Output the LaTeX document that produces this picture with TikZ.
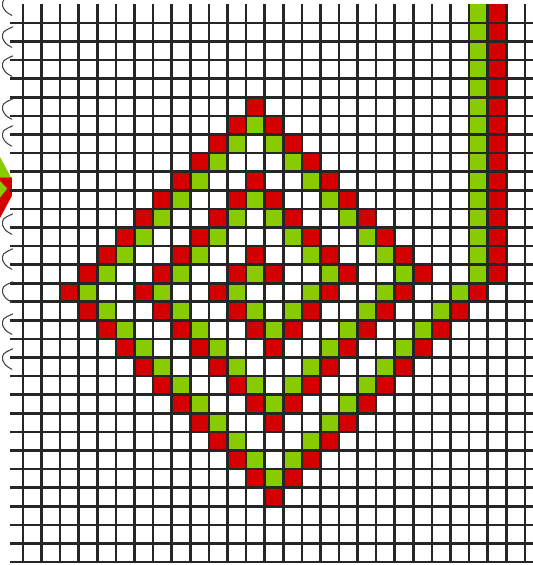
\documentclass[tikz,border=0pt]{standalone}
\usepackage{xcolor}
\usetikzlibrary{calc}
\definecolor{cellred}{RGB}{212,0,0}
\definecolor{cellgreen}{RGB}{136,204,0}
\tikzset{
  red cell/.style={
    fill=cellred
  },
  green cell/.style={
    fill=cellgreen
  },
  grid line/.style={
    draw=black!85, line width=2pt
  },
  edge curl/.style={
    draw=black!75, line width=0.8pt, line cap=round
  },
}
\begin{document}
\begin{tikzpicture}[x=0.5cm, y=0.5cm]

  % Page and margins
  \fill[white] (-0.237,0.237) rectangle (28.43,-30.16);
  \useasboundingbox (-0.237,0.237) rectangle (28.43,-30.16);

  % Red spiral: corner cells (column/row), walked cell by cell
  \foreach \ca/\ra/\cb/\rb in {26/0/26/14, 26/14/14/26, 14/26/3/15, 3/15/13/5,
      13/5/22/14, 22/14/14/22, 14/22/7/15, 7/15/13/9, 13/9/18/14,
      18/14/14/18, 14/18/11/15, 11/15/13/13, 13/13/14/14}{
    \pgfmathtruncatemacro{\n}{max(abs(\cb-\ca),abs(\rb-\ra))}
    \foreach \i in {0,...,\n}{
      \fill[red cell] ({\ca+\i*(\cb-\ca)/\n},{-\ra-\i*(\rb-\ra)/\n})
        rectangle ++(1,-1);
    }
  }

  % Green spiral, one cell inside the red one
  \foreach \ca/\ra/\cb/\rb in {25/0/25/14, 25/14/14/25, 14/25/4/15, 4/15/13/6,
      13/6/21/14, 21/14/14/21, 14/21/8/15, 8/15/13/10, 13/10/17/14,
      17/14/14/17, 14/17/12/15, 12/15/13/14}{
    \pgfmathtruncatemacro{\n}{max(abs(\cb-\ca),abs(\rb-\ra))}
    \foreach \i in {0,...,\n}{
      \fill[green cell] ({\ca+\i*(\cb-\ca)/\n},{-\ra-\i*(\rb-\ra)/\n})
        rectangle ++(1,-1);
    }
  }

  % Scrap of colour at the torn edge
  \fill[green cell] (-0.24,-8.2) -- (0.35,-9.3) -- (-0.24,-9.3) -- cycle;
  \fill[red cell] (-0.24,-9.3) -- (0.4,-9.3) -- (0.4,-10.3) -- (-0.24,-11.5) -- cycle;
  \fill[green cell] (-0.24,-9.5) -- (0.15,-9.9) -- (-0.24,-10.4) -- cycle;

  % Grid
  \foreach \k in {1,...,30}
    \draw[grid line] (0.3,-\k) -- (28.43,-\k);
  \foreach \k in {1,...,28}
    \draw[grid line] (\k,0) -- (\k,-30);

  % Torn edge
  \foreach \y in {-0.09,-1.81,-3.37,-5.68,-7.13,-11.87,-13.75,-15.52,-17.25,-19.13}
    \draw[edge curl] (0.45,\y+0.6) .. controls (-0.1,\y+0.35) .. (-0.1,\y)
      .. controls (0.05,\y-0.3) .. (0.4,\y-0.5);

\end{tikzpicture}
\end{document}
